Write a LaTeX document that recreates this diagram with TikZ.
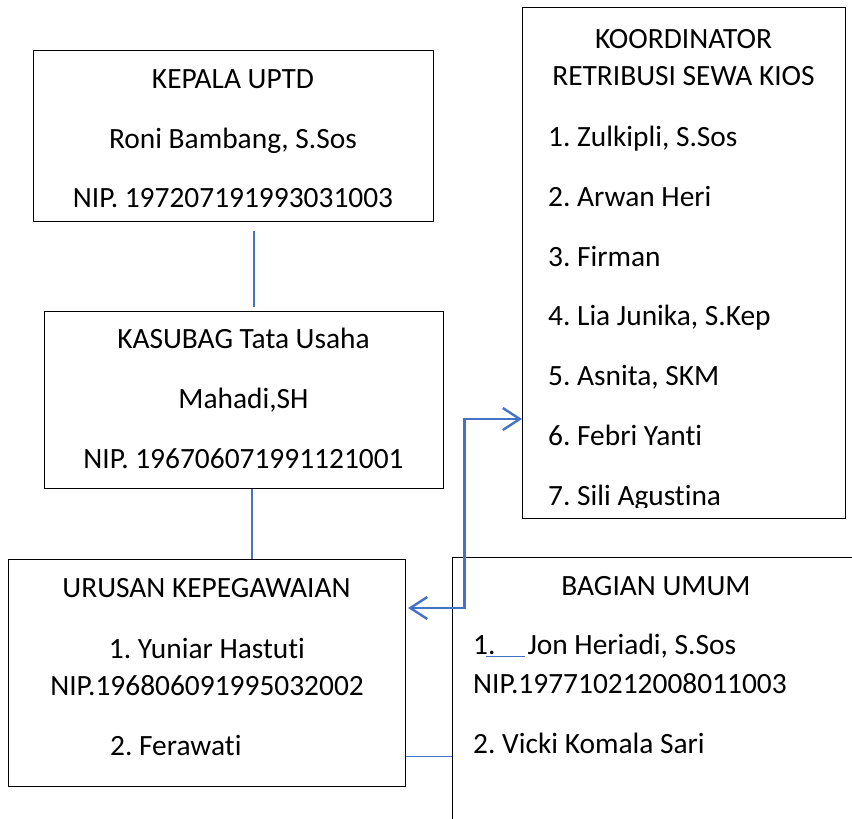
\documentclass[tikz,border=0pt]{standalone}
\usepackage{fontspec}
\setmainfont{Carlito}[RawFeature={-liga;-clig;-calt;-dlig}]
\frenchspacing
\usetikzlibrary{positioning,calc,arrows.meta}
\definecolor{linkblue}{HTML}{4472C4}
\tikzstyle{unit} = [ draw, rectangle, line width = 1.1pt, inner sep = 0pt, anchor = north west]
\tikzstyle{txt} = [ inner sep = 0pt, anchor = base, font = \fontsize{29.4}{36}\selectfont]
\tikzstyle{txtl} = [ txt, anchor = base west]
\tikzstyle{link} = [ draw = linkblue, line width = 1.2pt]
\tikzstyle{biarrow} = [ draw = linkblue, line width = 2.4pt, {Straight Barb[length=17pt,width=22pt]}-{Straight Barb[length=17pt,width=22pt]}]

\begin{document}
\begin{tikzpicture}[x=1pt, y=-1pt]
	\useasboundingbox (0,0) rectangle (852,819);
	\clip (0,0) rectangle (852,819);

	% boxes
	\node[unit, minimum width=400pt, minimum height=171pt] (kepala) at ( 33, 50 ) {};
	\node[unit, minimum width=399pt, minimum height=177pt] (kasubag) at ( 44, 311 ) {};
	\node[unit, minimum width=323pt, minimum height=511pt] (kios) at ( 522, 7 ) {};
	\node[unit, minimum width=397pt, minimum height=227pt] (urusan) at ( 8, 559 ) {};
	\node[unit, minimum width=450pt, minimum height=300pt] (umum) at ( 452, 557 ) {};

	% texts
	\node[txt] (kepala-a) at ( 233, 88 ) {KEPALA UPTD};
	\node[txt] (kepala-b) at ( 233, 148 ) {Roni Bambang, S.Sos};
	\node[txt] (kepala-c) at ( 233, 207 ) {NIP. 197207191993031003};

	\node[txt] (kasubag-a) at ( 243.5, 348 ) {KASUBAG Tata Usaha};
	\node[txt] (kasubag-b) at ( 243.5, 408 ) {Mahadi,SH};
	\node[txt] (kasubag-c) at ( 243.5, 468 ) {NIP. 196706071991121001};

	\node[txt] (kios-a) at ( 683.5, 48 ) {KOORDINATOR};
	\node[txt] (kios-b) at ( 683.5, 85 ) {RETRIBUSI SEWA KIOS};
	\node[txtl] (kios-1) at ( 548, 146 ) {1. Zulkipli, S.Sos};
	\node[txtl] (kios-2) at ( 548, 206 ) {2. Arwan Heri};
	\node[txtl] (kios-3) at ( 548, 266 ) {3. Firman};
	\node[txtl] (kios-4) at ( 548, 325 ) {4. Lia Junika, S.Kep};
	\node[txtl] (kios-5) at ( 548, 385 ) {5. Asnita, SKM};
	\node[txtl] (kios-6) at ( 548, 445 ) {6. Febri Yanti};
	\begin{scope}
		\clip (522,0) rectangle (845,507);
		\node[txtl] (kios-7) at ( 548, 505 ) {7. Sili Agustina};
	\end{scope}

	\node[txt] (urusan-a) at ( 206.5, 597 ) {URUSAN KEPEGAWAIAN};
	\node[txt] (urusan-b) at ( 207, 658 ) {1. Yuniar Hastuti};
	\node[txt] (urusan-c) at ( 207, 695 ) {NIP.196806091995032002};
	\node[txtl] (urusan-d) at ( 110, 755 ) {2. Ferawati};

	\node[txt] (umum-a) at ( 656, 595 ) {BAGIAN UMUM};
	\node[txtl] (umum-b) at ( 473, 654 ) {1.\hspace{-10pt}\textcolor{linkblue}{\rule[-3pt]{39pt}{1pt}}\hspace{3pt}Jon Heriadi, S.Sos};
	\node[txtl] (umum-c) at ( 473, 693 ) {NIP.197710212008011003};
	\node[txtl] (umum-d) at ( 473, 753 ) {2. Vicki Komala Sari};

	% connectors
	\draw[link] ($(kepala.south)+(20.5,9)$) -- ($(kasubag.north)+(10,-4)$);
	\draw[link] ($(kasubag.south)+(8,0)$) -- ($(urusan.north)+(45,0)$);
	\draw[link] (urusan.east |- 0,756.5) -- (umum.west |- 0,756.5);
	\draw[biarrow] (kios.west |- 0,419) -- (464.5,419) -- (464.5,608) -- ([xshift=2pt]urusan.east |- 0,608);
\end{tikzpicture}
\end{document}
